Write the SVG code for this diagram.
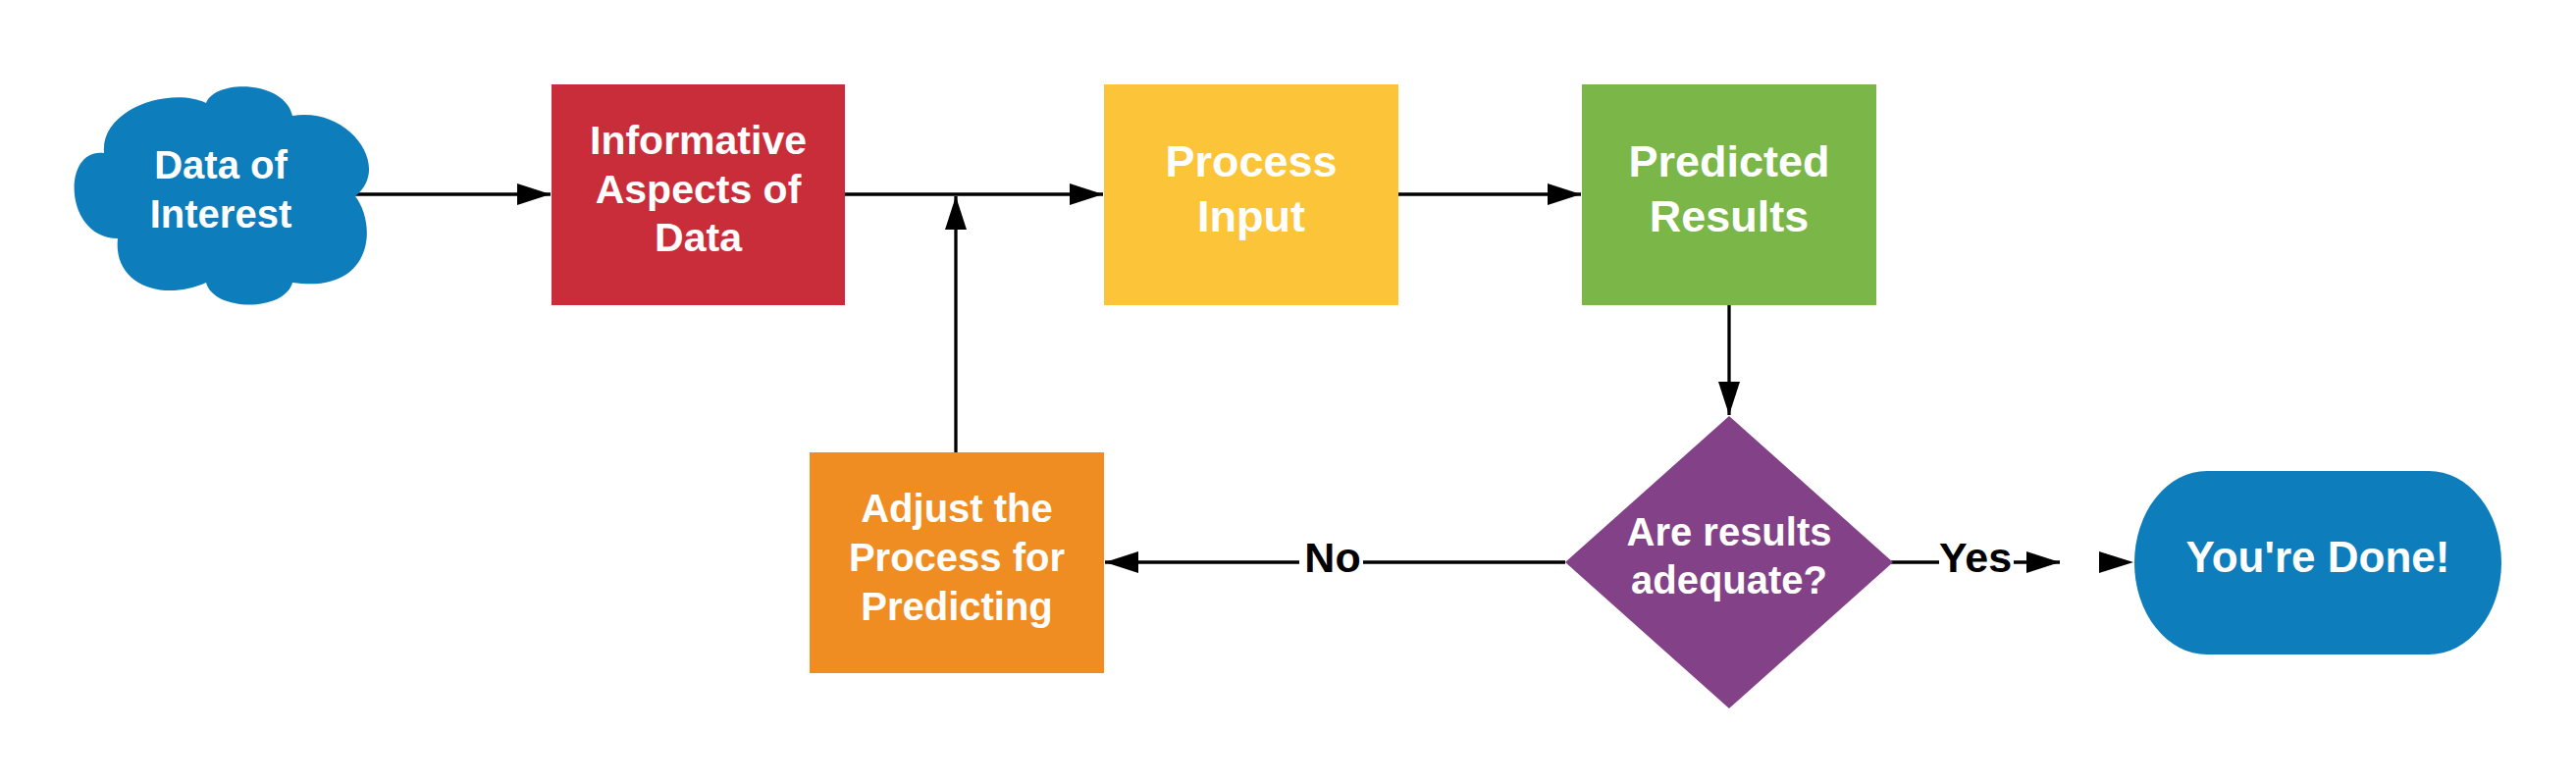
<svg xmlns="http://www.w3.org/2000/svg" width="2625" height="799" viewBox="0 0 2625 799">
<style>
  .lbl { font-family: "Liberation Sans", Arial, sans-serif; font-weight: bold; fill: #ffffff; text-anchor: middle; }
  .elbl { font-family: "Liberation Sans", Arial, sans-serif; font-weight: bold; fill: #000000; text-anchor: middle; font-size: 43px; }
  .conn { stroke: #000000; stroke-width: 3.3; fill: none; }
</style>
<defs>
  <marker id="arrow" markerUnits="userSpaceOnUse" markerWidth="36" markerHeight="24" refX="34" refY="11" orient="auto" viewBox="0 0 36 24">
    <path d="M0,0 L34,11 L0,22 z" fill="#000000"/>
  </marker>
</defs>
<rect width="2625" height="799" fill="#ffffff"/>

<g id="connectors">
  <path class="conn" d="M362,198 H561" marker-end="url(#arrow)"/>
  <path class="conn" d="M861,198 H1124" marker-end="url(#arrow)"/>
  <path class="conn" d="M974,461 V200" marker-end="url(#arrow)"/>
  <path class="conn" d="M1425,198 H1611" marker-end="url(#arrow)"/>
  <path class="conn" d="M1762,311 V423" marker-end="url(#arrow)"/>
  <path class="conn" d="M1595,573 H1389"/>
  <path class="conn" d="M1324,573 H1126" marker-end="url(#arrow)"/>
  <text class="elbl" x="1358" y="583">No</text>
  <path class="conn" d="M1927,573 H1976"/>
  <text class="elbl" x="2013" y="583">Yes</text>
  <path class="conn" d="M2052,573 H2099" marker-end="url(#arrow)"/>
  <polygon points="2139,562 2174,573 2139,584" fill="#000000"/>
</g>

<g id="data-of-interest">
  <path fill="#0e7dbb" d="M106,156 C102,110 175,88 210,105 C220,80 290,82 298,118 C355,108 400,170 362,200 C385,230 380,300 298,288 C290,318 218,318 210,288 C165,308 115,290 120,243 C65,243 62,150 106,156 Z"/>
  <text class="lbl" font-size="40" x="225" y="182">Data of</text>
  <text class="lbl" font-size="40" x="225" y="232">Interest</text>
</g>

<g id="informative-aspects">
  <rect x="562" y="86" width="299" height="225" fill="#c92d39"/>
  <text class="lbl" font-size="41" x="711.5" y="157">Informative</text>
  <text class="lbl" font-size="41" x="711.5" y="207">Aspects of</text>
  <text class="lbl" font-size="41" x="711.5" y="256">Data</text>
</g>

<g id="process-input">
  <rect x="1125" y="86" width="300" height="225" fill="#fcc438"/>
  <text class="lbl" font-size="45" x="1275" y="180">Process</text>
  <text class="lbl" font-size="45" x="1275" y="236">Input</text>
</g>

<g id="predicted-results">
  <rect x="1612" y="86" width="300" height="225" fill="#7ab648"/>
  <text class="lbl" font-size="45" x="1762" y="180">Predicted</text>
  <text class="lbl" font-size="45" x="1762" y="236">Results</text>
</g>

<g id="adjust-process">
  <rect x="825" y="461" width="300" height="225" fill="#ef8d22"/>
  <text class="lbl" font-size="40" x="975" y="532">Adjust the</text>
  <text class="lbl" font-size="40" x="975" y="582">Process for</text>
  <text class="lbl" font-size="40" x="975" y="632">Predicting</text>
</g>

<g id="decision">
  <polygon points="1762,424 1929,573 1762,722 1595,573" fill="#834187"/>
  <text class="lbl" font-size="40" x="1762" y="556">Are results</text>
  <text class="lbl" font-size="40" x="1762" y="605">adequate?</text>
</g>

<g id="done">
  <rect x="2175" y="480" width="374" height="187" rx="74" ry="93.5" fill="#0e7dbb"/>
  <text class="lbl" font-size="44" x="2362" y="583">You're Done!</text>
</g>
</svg>
